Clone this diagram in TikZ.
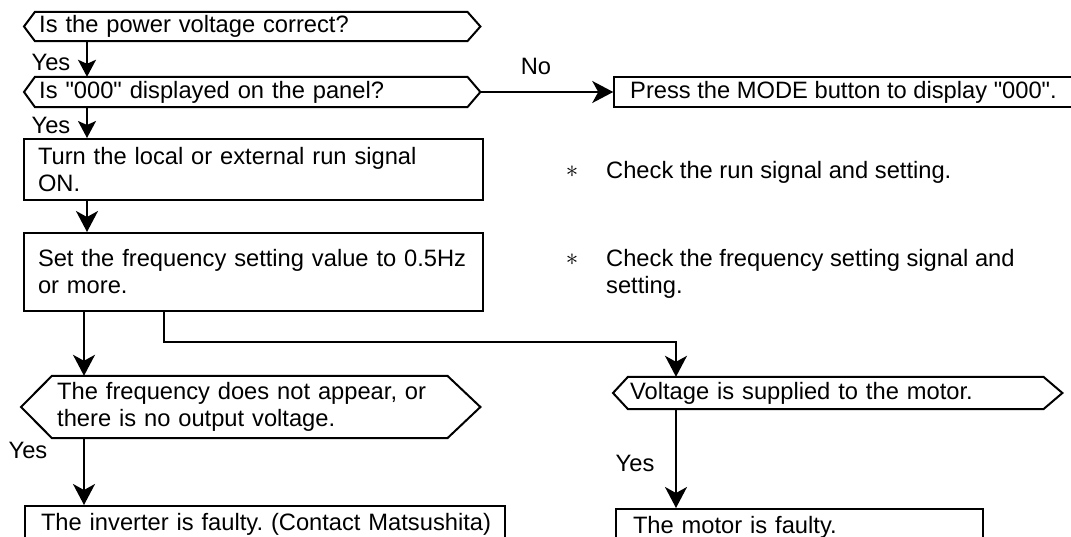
\documentclass[tikz,border=0pt]{standalone}
\usepackage{fontspec}
\setmainfont{Liberation Sans}
\usetikzlibrary{arrows.meta}
\frenchspacing

\begin{document}
\begin{tikzpicture}[x=1pt, y=-1pt, font=\fontsize{23.7pt}{27pt}\selectfont]
        % Styles
        \tikzstyle{block} = [rectangle, draw, line width=2pt, align=left, inner xsep=16pt, inner ysep=0pt]
        \tikzstyle{query} = [rectangle, align=left, inner xsep=4pt, inner ysep=0pt]
        \tikzstyle{hexline} = [draw, line width=2pt]
        \tikzstyle{line} = [draw, line width=2pt, -{Stealth[length=21pt, width=22pt, inset=6pt]}]
        \tikzstyle{shortline} = [draw, line width=2pt, -{Stealth[length=17pt, width=18pt, inset=4pt]}]
        \tikzstyle{answer} = [inner sep=0pt]
        \tikzstyle{endbox} = [block, anchor=north, text height=21pt, text depth=14pt, inner ysep=3pt]

        \useasboundingbox (0,0) rectangle (1071,537);

        % Nodes
        \node [query, anchor=west, minimum width=432pt, minimum height=29pt, text width=424pt] (voltage) at (35,26.5) {Is the power voltage correct?};
        \node [query, anchor=west, minimum width=432pt, minimum height=30pt, text width=424pt] (display) at (35,92) {Is \textquotedbl 000\textquotedbl{} displayed on the panel?};
        \node [block, minimum width=453pt, minimum height=30pt, align=center] (mode) at (843.5,92) {Press the MODE button to display \textquotedbl 000\textquotedbl.};
        \node [block, text width=431pt, inner xsep=14pt, minimum height=61pt] (runsig) at (253.5,169.5) {Turn the local or external run signal\\ON.};
        \node [block, text width=431pt, inner xsep=14pt, minimum height=78pt] (freqset) at (253.5,272) {\mbox{Set the frequency setting value to 0.5Hz}\\or more.};
        \node [query, anchor=west, minimum width=395pt, minimum height=62pt, text width=385pt, inner xsep=5pt] (nofreq) at (52,407) {The frequency does not appear, or\\there is no output voltage.};
        \node [query, anchor=west, minimum width=415pt, minimum height=32pt, text width=411pt, inner xsep=2pt] (motorv) at (628,393) {Voltage is supplied to the motor.};
        \node [endbox, text width=448pt, inner xsep=16pt] (faulty) at (265,505) {\mbox{The inverter is faulty. (Contact Matsushita)}};
        \node [endbox, text width=333pt, inner xsep=17pt] (motorbad) at (799.5,508) {The motor is faulty.};

        % Notes
        \node [answer] (runstar) at (572,172) {$\ast$};
        \node [answer, anchor=west, align=left] (runnote) at (606,172) {Check the run signal and setting.};
        \node [answer] (freqstar) at (572,260) {$\ast$};
        \node [answer, anchor=west, align=left] (freqnote) at (606,273.5) {Check the frequency setting signal and\\setting.};

        % Hexagons
        \draw [hexline] (voltage.north west) -- (voltage.north east) -- ([xshift=13pt]voltage.east) -- (voltage.south east) -- (voltage.south west) -- ([xshift=-11pt]voltage.west) -- cycle;
        \draw [hexline] (display.north west) -- (display.north east) -- ([xshift=13pt]display.east) -- (display.south east) -- (display.south west) -- ([xshift=-11pt]display.west) -- cycle;
        \draw [hexline] (nofreq.north west) -- (nofreq.north east) -- ([xshift=33pt]nofreq.east) -- (nofreq.south east) -- (nofreq.south west) -- ([xshift=-31pt]nofreq.west) -- cycle;
        \draw [hexline] (motorv.north west) -- (motorv.north east) -- ([xshift=19pt]motorv.east) -- (motorv.south east) -- (motorv.south west) -- ([xshift=-15pt]motorv.west) -- cycle;

        % Edges
        \coordinate (spine) at (87,0);
        \coordinate (drop) at (84,0);
        \coordinate (split) at (164,342);
        \coordinate (bend) at (676,342);
        \path [shortline] (voltage.south -| spine) -- (display.north -| spine);
        \path [shortline] (display.south -| spine) -- (runsig.north -| spine);
        \path [line] (runsig.south -| spine) -- (freqset.north -| spine);
        \path [line] ([xshift=13pt]display.east) -- (mode.west);
        \path [line] (freqset.south -| drop) -- (nofreq.north -| drop);
        \path [line] (nofreq.south -| drop) -- (faulty.north -| drop);
        \path [line] (freqset.south -| split) -- (split) -- (bend) -- (motorv.north -| bend);
        \path [line] (motorv.south -| bend) -- (motorbad.north -| bend);

        % Labels
        \node [answer] (yes1) at (51,62) {Yes};
        \node [answer] (yes2) at (51,125) {Yes};
        \node [answer] (no) at (536,66) {No};
        \node [answer] (yes3) at (28,450) {Yes};
        \node [answer] (yes4) at (635,463) {Yes};
    \end{tikzpicture}
\end{document}
